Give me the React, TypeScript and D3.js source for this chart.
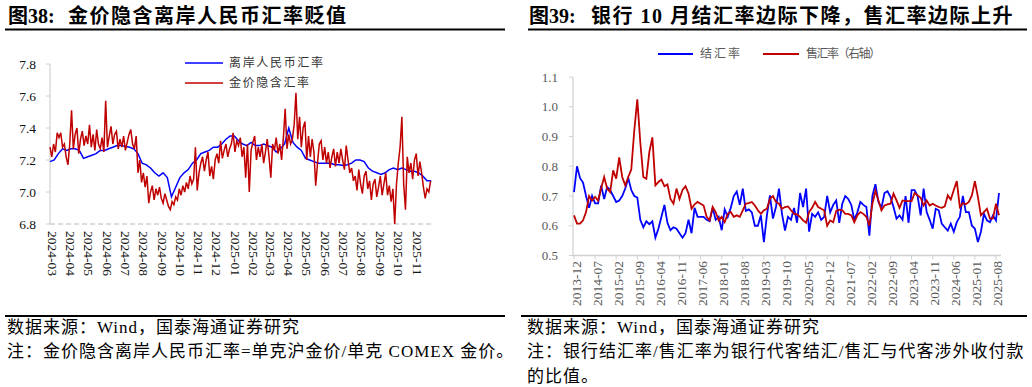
import React from "react";
import * as d3 from "d3";

// ---------- 图38：金价隐含离岸人民币汇率 ----------
const DAILY_START = "2024-03-01";
const CNH_STEP_DAYS = 7;
const GOLD_STEP_DAYS = 3;

// 离岸人民币汇率（USD/CNH），按周取值
const cnhRate = [
  7.19, 7.2, 7.24, 7.27, 7.26, 7.27, 7.27, 7.26, 7.21, 7.22,
  7.23, 7.24, 7.26, 7.26, 7.27, 7.28, 7.29, 7.29, 7.285, 7.28,
  7.27, 7.24, 7.18, 7.17, 7.15, 7.12, 7.1, 7.12, 7.09, 6.97,
  7.03, 7.09, 7.12, 7.14, 7.18, 7.2, 7.24, 7.25, 7.26, 7.28,
  7.28, 7.3, 7.33, 7.35, 7.35, 7.32, 7.3, 7.29, 7.31, 7.29,
  7.29, 7.3, 7.29, 7.28, 7.25, 7.27, 7.3, 7.4, 7.31, 7.28,
  7.26, 7.21, 7.2, 7.19, 7.18, 7.18, 7.18, 7.18, 7.17, 7.17,
  7.165, 7.17, 7.18, 7.2, 7.2, 7.19, 7.15, 7.13, 7.12, 7.11,
  7.12, 7.14, 7.15, 7.14, 7.15, 7.14, 7.13, 7.13, 7.12, 7.1,
  7.07, 7.07,
];

// 金价隐含汇率 = 单克沪金价 / 单克 COMEX 金价，每 3 日取值
const goldImpliedRate = [
  7.28, 7.22, 7.3, 7.25, 7.37, 7.34, 7.37, 7.28, 7.3, 7.22,
  7.17, 7.3, 7.51, 7.27, 7.36, 7.4, 7.24, 7.33, 7.38, 7.29,
  7.35, 7.3, 7.42, 7.28, 7.36, 7.26, 7.39, 7.3, 7.27, 7.34,
  7.25, 7.57, 7.28, 7.35, 7.41, 7.3, 7.36, 7.38, 7.27, 7.33,
  7.28, 7.35, 7.26, 7.31, 7.36, 7.39, 7.3, 7.27, 7.35, 7.12,
  7.2, 7.06, 7.12, 7.03, 7.1, 6.93, 7.0, 7.04, 6.95, 7.02,
  6.98, 7.03, 6.96, 6.93, 6.99, 6.95, 6.91, 6.89, 6.94, 6.92,
  6.97, 6.95, 7.02, 6.98, 7.04, 7.0, 7.06, 7.02, 7.1, 7.05,
  7.08, 7.28, 7.01, 7.12, 7.18, 7.22, 7.13, 7.2, 7.25, 7.1,
  7.16, 7.08, 7.2, 7.24, 7.18, 7.32, 7.21, 7.26, 7.3, 7.22,
  7.27, 7.3, 7.37, 7.25, 7.32, 7.29, 7.34, 7.22, 7.28, 7.09,
  7.3, 7.0, 7.26, 7.31, 7.35, 7.2, 7.28, 7.22, 7.3, 7.18,
  7.25, 7.33, 7.22, 7.09, 7.3, 7.26, 7.34, 7.24, 7.3, 7.2,
  7.34, 7.52, 7.27, 7.36, 7.3, 7.33, 7.42, 7.62, 7.33, 7.47,
  7.28, 7.4, 7.44, 7.2, 7.35, 7.22, 7.33, 7.25, 7.04, 7.18,
  7.3, 7.32, 7.2, 7.28, 7.18, 7.25, 7.15, 7.22, 7.27, 7.16,
  7.25, 7.18, 7.27, 7.2, 7.14, 7.29, 7.2, 7.12, 7.15, 7.07,
  7.1, 7.01, 7.14, 7.05, 6.99, 7.1, 7.13, 7.02, 7.07, 6.95,
  7.05, 7.08, 6.97, 7.03, 7.1, 6.98, 7.05, 7.12, 6.98, 7.04,
  6.94, 7.02, 6.8, 7.05, 7.18, 7.28, 7.47, 7.05, 6.89, 7.22,
  7.12, 7.18, 7.08, 7.2, 7.24, 7.1, 7.19, 7.12, 7.03, 6.96,
  7.02, 7.0, 7.07,
];

const leftMonthLabels = [
  "2024-03", "2024-04", "2024-05", "2024-06", "2024-07", "2024-08", "2024-09",
  "2024-10", "2024-11", "2024-12", "2025-01", "2025-02", "2025-03", "2025-04",
  "2025-05", "2025-06", "2025-07", "2025-08", "2025-09", "2025-10", "2025-11",
];
const leftYTicks = [6.8, 7.0, 7.2, 7.4, 7.6, 7.8];

// ---------- 图39：银行结汇率与售汇率 ----------
const FX_FIRST_MONTH = "2013-12";

// 结汇率，月度
const settlementRatio = [
  0.713, 0.8, 0.76, 0.745, 0.7, 0.66, 0.7, 0.675, 0.675, 0.735,
  0.69, 0.73, 0.72, 0.7, 0.68, 0.685, 0.7, 0.725, 0.76, 0.72,
  0.7, 0.695, 0.62, 0.595, 0.615, 0.605, 0.615, 0.56, 0.59, 0.63,
  0.67, 0.61, 0.585, 0.595, 0.59, 0.575, 0.56, 0.575, 0.62, 0.575,
  0.66, 0.63, 0.63, 0.63, 0.62, 0.615, 0.66, 0.62, 0.63, 0.585,
  0.655, 0.63, 0.66, 0.7, 0.715, 0.67, 0.725, 0.65, 0.655, 0.645,
  0.6, 0.6, 0.635, 0.545, 0.635, 0.702, 0.624, 0.663, 0.725, 0.64,
  0.584, 0.63, 0.62, 0.66, 0.61, 0.71, 0.663, 0.725, 0.58, 0.64,
  0.63, 0.645, 0.62, 0.63, 0.7, 0.645, 0.67, 0.685, 0.61, 0.674,
  0.7, 0.69, 0.67, 0.62, 0.645, 0.68, 0.67, 0.663, 0.567, 0.7,
  0.74, 0.68, 0.66, 0.71, 0.716, 0.697, 0.663, 0.624, 0.635, 0.62,
  0.7, 0.61, 0.72, 0.72, 0.7, 0.635, 0.725, 0.646, 0.62, 0.59,
  0.657, 0.652, 0.607, 0.595, 0.584, 0.607, 0.58, 0.612, 0.63, 0.7,
  0.646, 0.646, 0.6, 0.59, 0.545, 0.58, 0.64, 0.618, 0.612, 0.635,
  0.618, 0.71,
];

// 售汇率（右轴），月度
const saleRatio = [
  0.635, 0.607, 0.607, 0.618, 0.646, 0.7, 0.685, 0.697, 0.685, 0.725,
  0.764, 0.725, 0.713, 0.786, 0.758, 0.83, 0.764, 0.736, 0.764, 0.789,
  0.92, 1.025, 0.88, 0.764, 0.758, 0.848, 0.897, 0.736, 0.747, 0.755,
  0.733, 0.739, 0.69, 0.674, 0.725, 0.69, 0.72, 0.733, 0.708, 0.657,
  0.672, 0.68, 0.674, 0.668, 0.63, 0.618, 0.663, 0.646, 0.618, 0.63,
  0.612, 0.64, 0.646, 0.63, 0.635, 0.63, 0.652, 0.674, 0.676, 0.68,
  0.668, 0.652, 0.64, 0.652, 0.657, 0.69, 0.7, 0.68, 0.674, 0.657,
  0.663, 0.665, 0.652, 0.64, 0.638, 0.63, 0.618, 0.61, 0.646, 0.66,
  0.68, 0.663, 0.657, 0.652, 0.6, 0.618, 0.612, 0.65, 0.654, 0.652,
  0.64, 0.64, 0.635, 0.612, 0.635, 0.646, 0.64, 0.63, 0.6, 0.674,
  0.717, 0.685, 0.652, 0.668, 0.672, 0.674, 0.708, 0.685, 0.66, 0.685,
  0.683, 0.683, 0.683, 0.71, 0.702, 0.694, 0.668, 0.685, 0.668, 0.674,
  0.668, 0.663, 0.66, 0.665, 0.702, 0.688, 0.72, 0.75, 0.663, 0.676,
  0.672, 0.68, 0.702, 0.75, 0.697, 0.635, 0.646, 0.657, 0.624, 0.625,
  0.674, 0.635,
];

const rightMonthLabels = [
  "2013-12", "2014-07", "2015-02", "2015-09", "2016-04", "2016-11", "2017-06",
  "2018-01", "2018-08", "2019-03", "2019-10", "2020-05", "2020-12", "2021-07",
  "2022-02", "2022-09", "2023-04", "2023-11", "2024-06", "2025-01", "2025-08",
];
const rightYTicks = [0.5, 0.6, 0.7, 0.8, 0.9, 1.0, 1.1];

// ---------- styles ----------
const SERIF = "'Liberation Serif', 'Times New Roman', 'Noto Sans CJK SC', serif";
const CJK = "'Liberation Serif', 'Noto Sans CJK SC', sans-serif";
const BLUE = "#0000ff";
const RED = "#c00000";
const AXIS_GREY = "#d0d0d0";

const parseDay = d3.timeParse("%Y-%m-%d");
const parseMonth = d3.timeParse("%Y-%m");

function monthIndex(label: string, first: string): number {
  const a = parseMonth(first)!;
  const b = parseMonth(label)!;
  return d3.timeMonth.count(a, b);
}

function LeftChart() {
  const start = parseDay(DAILY_START)!;
  const x = d3
    .scaleTime()
    .domain([start, parseDay("2025-12-01")!])
    .range([50, 433]);
  const y = d3.scaleLinear().domain([6.8, 7.8]).range([224, 64]);

  const lineFor = (step: number) =>
    d3
      .line<number>()
      .x((_, i) => x(d3.timeDay.offset(start, i * step)))
      .y((d) => y(d));

  const monthTicks = leftMonthLabels.map((m) => ({ label: m, date: parseMonth(m)! }));

  return (
    <g>
      <text x={8} y={23} fontFamily={CJK} fontSize={20} fontWeight="bold" fill="#000">
        图38:
      </text>
      <text x={68} y={23} fontFamily={CJK} fontSize={20} fontWeight="bold" letterSpacing={1.5} fill="#000">
        金价隐含离岸人民币汇率贬值
      </text>
      <line x1={5} x2={505} y1={29.5} y2={29.5} stroke="#000" strokeWidth={2} />

      {/* axes */}
      <line x1={50} x2={50} y1={y(7.8)} y2={y(6.8)} stroke={AXIS_GREY} strokeWidth={1.2} />
      <line x1={50} x2={433} y1={y(6.8)} y2={y(6.8)} stroke={AXIS_GREY} strokeWidth={1.5} strokeDasharray="5,3" />
      {leftYTicks.map((t) => (
        <g key={t}>
          <line x1={46} x2={50} y1={y(t)} y2={y(t)} stroke={AXIS_GREY} />
          <text
            x={36}
            y={y(t)}
            textAnchor="end"
            dominantBaseline="central"
            fontFamily={SERIF}
            fontSize={13.5}
            fill="#111"
          >
            {d3.format(".1f")(t)}
          </text>
        </g>
      ))}
      {monthTicks.map((m) => (
        <text
          key={m.label}
          transform={`translate(${x(m.date) + 2},231) rotate(90)`}
          dominantBaseline="central"
          fontFamily={SERIF}
          fontSize={13.5}
          fill="#111"
        >
          {m.label}
        </text>
      ))}

      {/* series */}
      <path d={lineFor(CNH_STEP_DAYS)(cnhRate) ?? ""} fill="none" stroke={BLUE} strokeWidth={1.5} />
      <path d={lineFor(GOLD_STEP_DAYS)(goldImpliedRate) ?? ""} fill="none" stroke={RED} strokeWidth={1.5} />

      {/* legend */}
      <line x1={185} x2={223} y1={63} y2={63} stroke={BLUE} strokeWidth={1.5} />
      <text x={229} y={63} dominantBaseline="central" fontFamily={CJK} fontSize={12} fill="#333" textLength={94}>
        离岸人民币汇率
      </text>
      <line x1={185} x2={223} y1={83} y2={83} stroke={RED} strokeWidth={1.5} />
      <text x={229} y={83} dominantBaseline="central" fontFamily={CJK} fontSize={12} fill="#333" textLength={80}>
        金价隐含汇率
      </text>

      {/* footnotes */}
      <line x1={5} x2={505} y1={316} y2={316} stroke="#000" strokeWidth={2} />
      <text x={7} y={333} fontFamily={CJK} fontSize={17} letterSpacing={1} fill="#000">
        数据来源：Wind，国泰海通证券研究
      </text>
      <text x={7} y={357} fontFamily={CJK} fontSize={17} letterSpacing={1} fill="#000">
        注：金价隐含离岸人民币汇率=单克沪金价/单克 COMEX 金价。
      </text>
    </g>
  );
}

function RightChart() {
  const n = settlementRatio.length;
  const x = d3.scaleLinear().domain([0, n - 1]).range([574, 999]);
  const y = d3.scaleLinear().domain([0.5, 1.1]).range([255.5, 77]);
  const line = d3
    .line<number>()
    .x((_, i) => x(i))
    .y((d) => y(d));

  return (
    <g>
      <text x={529} y={23} fontFamily={CJK} fontSize={20} fontWeight="bold" fill="#000">
        图39:
      </text>
      <text x={591} y={23} fontFamily={CJK} fontSize={20} fontWeight="bold" letterSpacing={1.5} fill="#000">
        银行 10 月结汇率边际下降，售汇率边际上升
      </text>
      <line x1={528} x2={1027} y1={29.5} y2={29.5} stroke="#000" strokeWidth={2} />

      {/* legend */}
      <line x1={658} x2={693} y1={54} y2={54} stroke={BLUE} strokeWidth={1.8} />
      <text x={700} y={54} dominantBaseline="central" fontFamily={CJK} fontSize={12} fill="#595959" textLength={40}>
        结汇率
      </text>
      <line x1={763} x2={799} y1={54} y2={54} stroke={RED} strokeWidth={1.8} />
      <text x={806} y={54} dominantBaseline="central" fontFamily={CJK} fontSize={12} fill="#595959" textLength={75}>
        售汇率（右轴）
      </text>

      {/* axes */}
      <line x1={573} x2={573} y1={y(1.1)} y2={y(0.5)} stroke={AXIS_GREY} strokeWidth={1.2} />
      <line x1={573} x2={1001} y1={y(0.5)} y2={y(0.5)} stroke={AXIS_GREY} strokeWidth={1.5} />
      {rightYTicks.map((t) => (
        <g key={t}>
          <line x1={569} x2={573} y1={y(t)} y2={y(t)} stroke={AXIS_GREY} />
          <text
            x={558}
            y={y(t)}
            textAnchor="end"
            dominantBaseline="central"
            fontFamily={SERIF}
            fontSize={13}
            fill="#595959"
          >
            {d3.format(".1f")(t)}
          </text>
        </g>
      ))}
      {rightMonthLabels.map((m) => {
        const xi = x(monthIndex(m, FX_FIRST_MONTH));
        return (
          <g key={m}>
            <line x1={xi} x2={xi} y1={y(0.5)} y2={y(0.5) + 4} stroke={AXIS_GREY} />
            <text
              transform={`translate(${xi + 2},261) rotate(-90)`}
              textAnchor="end"
              dominantBaseline="central"
              fontFamily={SERIF}
              fontSize={13.5}
              fill="#595959"
            >
              {m}
            </text>
          </g>
        );
      })}

      {/* series */}
      <path d={line(settlementRatio) ?? ""} fill="none" stroke={BLUE} strokeWidth={1.8} />
      <path d={line(saleRatio) ?? ""} fill="none" stroke={RED} strokeWidth={1.8} />

      {/* footnotes */}
      <line x1={521} x2={1027} y1={316} y2={316} stroke="#000" strokeWidth={2} />
      <text x={527} y={333} fontFamily={CJK} fontSize={17} letterSpacing={1} fill="#000">
        数据来源：Wind，国泰海通证券研究
      </text>
      <text x={527} y={357} fontFamily={CJK} fontSize={17} letterSpacing={1} fill="#000">
        注：银行结汇率/售汇率为银行代客结汇/售汇与代客涉外收付款
      </text>
      <text x={527} y={382} fontFamily={CJK} fontSize={17} letterSpacing={1} fill="#000">
        的比值。
      </text>
    </g>
  );
}

export default function App() {
  return (
    <svg
      width={1032}
      height={387}
      viewBox="0 0 1032 387"
      style={{ position: "absolute", left: 0, top: 0, background: "#fff" }}
    >
      <rect width={1032} height={387} fill="#fff" />
      <LeftChart />
      <RightChart />
    </svg>
  );
}
